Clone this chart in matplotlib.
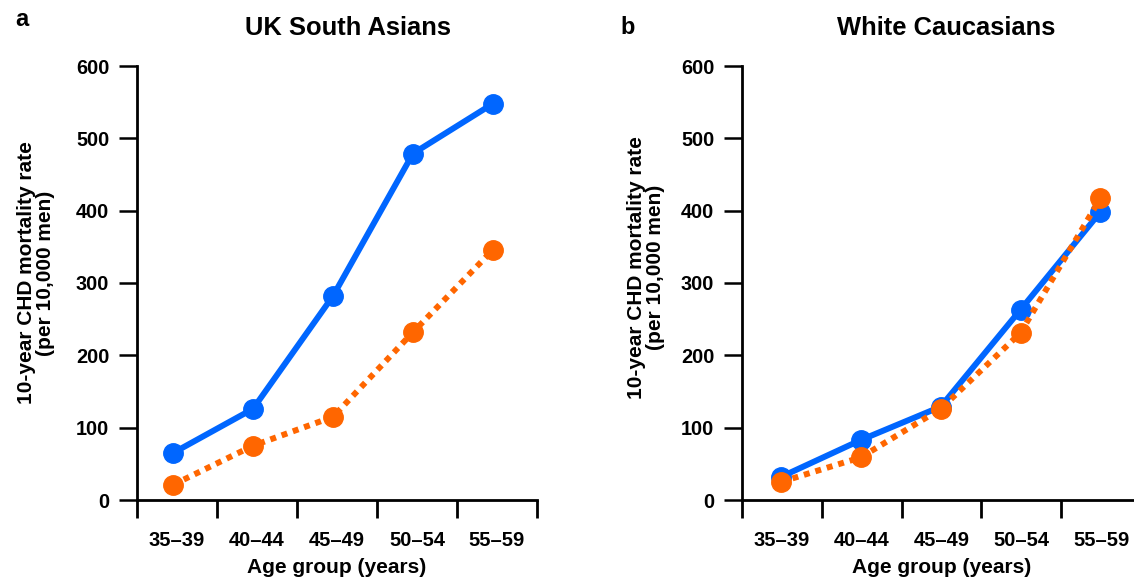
import matplotlib
matplotlib.use("Agg")
import matplotlib.pyplot as plt
import numpy as np

plt.rcParams['font.family'] = ['Liberation Sans', 'DejaVu Sans']
plt.rcParams['font.weight'] = 'bold'

age_groups = ['35–39', '40–44', '45–49', '50–54', '55–59']
sa_blue = [65, 126, 282, 479, 548]
sa_orange = [21, 75, 115, 232, 346]
wc_blue = [32, 83, 129, 263, 398]
wc_orange = [25, 59, 126, 231, 417]
y_ticks = [0, 100, 200, 300, 400, 500, 600]

BLUE = '#0066ff'
ORANGE = '#ff6600'

W, H = 1134, 582
fig = plt.figure(figsize=(W / 100, H / 100), dpi=100)


def px_axes(x0, x1, y_top, y_bot):
    return fig.add_axes([x0 / W, (H - y_bot) / H, (x1 - x0) / W, (y_bot - y_top) / H])


def style(ax, lab_x, lab_y):
    ax.set_xlim(0, len(age_groups))
    ax.set_ylim(0, 600)
    for s in ['top', 'right']:
        ax.spines[s].set_visible(False)
    for s in ['left', 'bottom']:
        ax.spines[s].set_linewidth(2.0)
    ax.set_yticks(y_ticks)
    ax.set_yticklabels([str(v) for v in y_ticks], fontsize=14.3, fontweight='bold')
    ax.set_xticks(np.arange(len(age_groups) + 1))
    ax.set_xticklabels([])
    ax.set_xticks(np.arange(len(age_groups)) + 0.5, minor=True)
    ax.set_xticklabels(age_groups, minor=True, fontsize=14.5, fontweight='bold')
    ax.tick_params(axis='x', which='major', direction='out', length=13, width=2.0)
    ax.tick_params(axis='x', which='minor', length=0, pad=22)
    ax.tick_params(axis='y', direction='out', length=13, width=1.8, pad=7)
    ax.set_ylabel('10-year CHD mortality rate\n(per 10,000 men)', fontsize=15,
                  fontweight='bold', linespacing=1.0)
    ax.yaxis.set_label_coords(lab_x, lab_y)
    ax.set_xlabel('Age group (years)', fontsize=15, fontweight='bold', labelpad=6)


ax1 = px_axes(137, 537, 66, 500)
x1 = np.arange(len(age_groups)) + 0.45
ax1.plot(x1, sa_orange, color=ORANGE, lw=4.3, linestyle=(0, (1, 1)),
         dash_capstyle='butt', marker='o', markersize=14, clip_on=False, zorder=3)
ax1.plot(x1, sa_blue, color=BLUE, lw=4.3, linestyle='-', marker='o',
         markersize=14, clip_on=False, zorder=4)
style(ax1, -0.205, 0.523)

ax2 = px_axes(742, 1141, 66, 500)
x2 = np.arange(len(age_groups)) + 0.49
ax2.plot(x2, wc_blue, color=BLUE, lw=4.3, linestyle='-', marker='o',
         markersize=14, clip_on=False, zorder=3)
ax2.plot(x2, wc_orange, color=ORANGE, lw=4.3, linestyle=(0, (1, 1)),
         dash_capstyle='butt', marker='o', markersize=14, clip_on=False, zorder=4)
style(ax2, -0.193, 0.536)

fig.text(348 / W, 1 - 28 / H, 'UK South Asians', ha='center', va='center',
         fontsize=18.4, fontweight='bold')
fig.text(946 / W, 1 - 28 / H, 'White Caucasians', ha='center', va='center',
         fontsize=18.4, fontweight='bold')
fig.text(22 / W, 1 - 20 / H, 'a', ha='center', va='center', fontsize=17, fontweight='bold')
fig.text(628 / W, 1 - 28 / H, 'b', ha='center', va='center', fontsize=17, fontweight='bold')

fig.savefig('out.png', dpi=100)
